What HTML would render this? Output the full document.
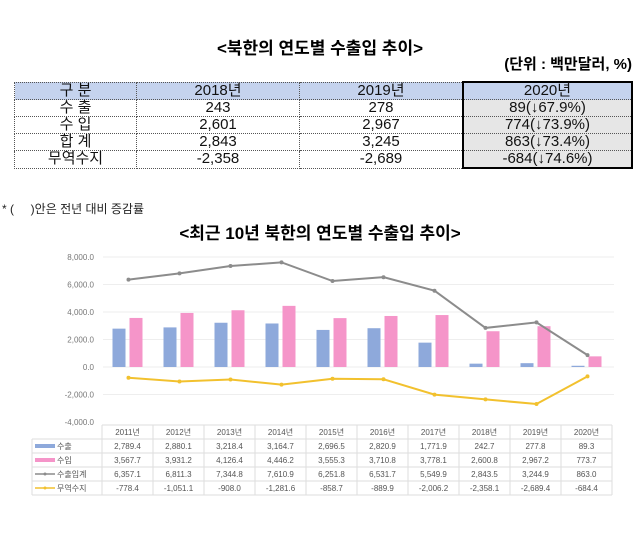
<!DOCTYPE html>
<html><head><meta charset="utf-8"><style>
body{margin:0;width:640px;height:535px;background:#fff;position:relative;overflow:hidden;font-family:"Liberation Sans","Noto Sans CJK KR",sans-serif;}
.abs{position:absolute;}
table.t{position:absolute;left:14px;top:81px;border-collapse:collapse;font-family:"Liberation Sans","Noto Sans CJK KR",sans-serif;font-size:15px;color:#111;}
table.t td{border:1px dotted #555;height:16px;padding:0;text-align:center;line-height:16px;}
table.t tr.h td{background:#c5d3ee;}
table.t td.g{background:#e6e6e6;}
</style></head><body>
<div class="abs" style="left:0;width:640px;top:34px;text-align:center;font-size:17px;font-weight:bold;">&lt;북한의 연도별 수출입 추이&gt;</div>
<div class="abs" style="right:8px;top:53px;font-size:15px;font-weight:bold;">(단위 : 백만달러, %)</div>
<table class="t">
<tr class="h"><td style="width:121px">구 분</td><td style="width:162px">2018년</td><td style="width:162px">2019년</td><td style="width:167px;border:2px solid #000;border-bottom:1px dotted #555">2020년</td></tr>
<tr><td>수 출</td><td>243</td><td>278</td><td class="g" style="border-left:2px solid #000;border-right:2px solid #000">89(↓67.9%)</td></tr>
<tr><td>수 입</td><td>2,601</td><td>2,967</td><td class="g" style="border-left:2px solid #000;border-right:2px solid #000">774(↓73.9%)</td></tr>
<tr><td>합 계</td><td>2,843</td><td>3,245</td><td class="g" style="border-left:2px solid #000;border-right:2px solid #000">863(↓73.4%)</td></tr>
<tr><td>무역수지</td><td>-2,358</td><td>-2,689</td><td class="g" style="border:2px solid #000;border-top:1px dotted #555">-684(↓74.6%)</td></tr>
</table>
<div class="abs" style="left:2px;top:200px;font-size:12px;color:#222;">* (&nbsp;&nbsp;&nbsp;&nbsp;&nbsp;)안은 전년 대비 증감률</div>
<div class="abs" style="left:0;width:640px;top:219px;text-align:center;font-size:17px;font-weight:bold;">&lt;최근 10년 북한의 연도별 수출입 추이&gt;</div>
<svg class="abs" style="left:0;top:0" width="640" height="535" font-family="Liberation Sans, Noto Sans CJK KR, sans-serif">
<g stroke="#eee" stroke-width="1">
<line x1="103" x2="614" y1="257" y2="257"/><line x1="103" x2="614" y1="284.5" y2="284.5"/><line x1="103" x2="614" y1="312" y2="312"/><line x1="103" x2="614" y1="339.5" y2="339.5"/><line x1="103" x2="614" y1="367" y2="367"/><line x1="103" x2="614" y1="394.5" y2="394.5"/>
</g>
<g font-size="8" fill="#777" text-anchor="end">
<text x="94" y="260">8,000.0</text><text x="94" y="287.5">6,000.0</text><text x="94" y="315">4,000.0</text><text x="94" y="342.5">2,000.0</text><text x="94" y="370">0.0</text><text x="94" y="397.5">-2,000.0</text><text x="94" y="425">-4,000.0</text>
</g>
<g id="bars"></g>
<polyline id="tot" fill="none" stroke="#8c8c8c" stroke-width="2"/>
<polyline id="bal" fill="none" stroke="#f2c12e" stroke-width="2"/>
<g id="pts"></g>
<g id="tbl" font-size="8" fill="#555" text-anchor="middle"></g>
</svg>
<script>
var ex=[2789.4,2880.1,3218.4,3164.7,2696.5,2820.9,1771.9,242.7,277.8,89.3],
im=[3567.7,3931.2,4126.4,4446.2,3555.3,3710.8,3778.1,2600.8,2967.2,773.7],
to=[6357.1,6811.3,7344.8,7610.9,6251.8,6531.7,5549.9,2843.5,3244.9,863.0],
ba=[-778.4,-1051.1,-908.0,-1281.6,-858.7,-889.9,-2006.2,-2358.1,-2689.4,-684.4];
var NS='http://www.w3.org/2000/svg';
function Y(v){return 367-v*0.01375;}
function cx(i){return 128.5+51*i;}
function el(t,a,p){var e=document.createElementNS(NS,t);for(var k in a)e.setAttribute(k,a[k]);p.appendChild(e);return e;}
var bars=document.getElementById('bars'),pts=document.getElementById('pts');
var tp=[],bp=[];
for(var i=0;i<10;i++){var c=cx(i);
el('rect',{x:c-16,y:Y(ex[i]),width:13,height:367-Y(ex[i]),fill:'#8ea9db'},bars);
el('rect',{x:c+1,y:Y(im[i]),width:13,height:367-Y(im[i]),fill:'#f595c9'},bars);
tp.push(c+','+Y(to[i]));bp.push(c+','+Y(ba[i]));
el('circle',{cx:c,cy:Y(to[i]),r:2,fill:'#8c8c8c'},pts);
el('circle',{cx:c,cy:Y(ba[i]),r:2,fill:'#f2c12e'},pts);}
document.getElementById('tot').setAttribute('points',tp.join(' '));
document.getElementById('bal').setAttribute('points',bp.join(' '));
var tb=document.getElementById('tbl');
function f(v){return v.toLocaleString('en-US',{minimumFractionDigits:1,maximumFractionDigits:1});}
var rows=[ex,im,to,ba],names=['수출','수입','수출입계','무역수지'],cols=['#8ea9db','#f595c9','#8c8c8c','#f2c12e'];
var x0=102,w=51,yt=425,h=14;
for(var r=0;r<=5;r++)el('line',{x1:(r==0?x0:32),x2:x0+510,y1:yt+h*r,y2:yt+h*r,stroke:'#ddd'},tb);
el('line',{x1:32,x2:32,y1:yt+h,y2:yt+5*h,stroke:'#ddd'},tb);
for(var i=0;i<=10;i++)el('line',{x1:x0+w*i,x2:x0+w*i,y1:yt,y2:yt+5*h,stroke:'#ddd'},tb);
for(var i=0;i<10;i++){var t=el('text',{x:x0+w*i+w/2,y:yt+10},tb);t.textContent=(2011+i)+'년';}
for(var r=0;r<4;r++){var yy=yt+h*(r+1);
 if(r<2)el('rect',{x:35,y:yy+5,width:20,height:4,fill:cols[r]},tb);
 else{el('line',{x1:35,x2:55,y1:yy+7,y2:yy+7,stroke:cols[r],'stroke-width':1.5},tb);el('circle',{cx:45,cy:yy+7,r:1.5,fill:cols[r]},tb);}
 var t=el('text',{x:57,y:yy+10,'text-anchor':'start'},tb);t.textContent=names[r];
 for(var i=0;i<10;i++){var t=el('text',{x:x0+w*i+w/2,y:yy+10},tb);t.textContent=f(rows[r][i]);}}
</script>
</body></html>
